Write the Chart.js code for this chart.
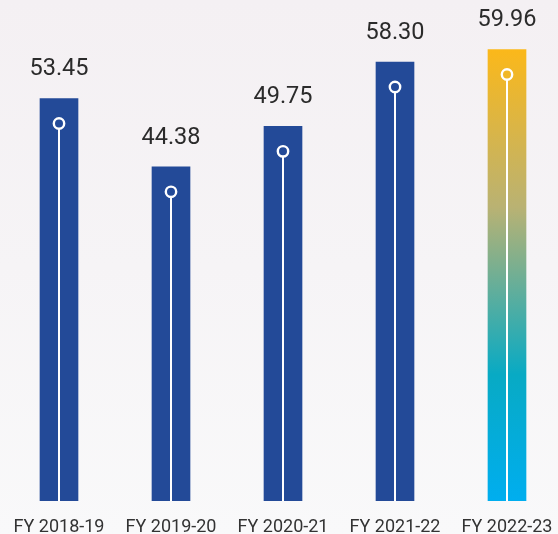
<!DOCTYPE html>
<html>
<head>
<meta charset="utf-8">
<script src="https://cdn.jsdelivr.net/npm/chart.js@4"></script>
<style>
  html, body { margin: 0; padding: 0; overflow: hidden; }
  body {
    width: 558px; height: 534px;
    background: linear-gradient(to bottom, #f4f0f3 0%, #f6f4f6 50%, #f9f9fa 100%);
    position: relative;
  }
  #wrap { position: absolute; left: 3px; top: 0; width: 560px; height: 534px; }
</style>
</head>
<body>
<div id="wrap"><canvas id="revenueChart" width="560" height="534"></canvas></div>
<script>
const years = ["FY 2018-19", "FY 2019-20", "FY 2020-21", "FY 2021-22", "FY 2022-23"];
const revenue = [53.45, 44.38, 49.75, 58.30, 59.96];

const barBlue = "#234a98";

// last year gets the yellow -> teal -> cyan fill
function latestFill(context) {
    const chart = context.chart;
    const area = chart.chartArea;
    if (context.dataIndex !== revenue.length - 1) return barBlue;
    if (!area || !chart.scales.y) return barBlue;
    const top = chart.scales.y.getPixelForValue(revenue[context.dataIndex]);
    if (!isFinite(top) || !isFinite(area.bottom)) return barBlue;
    const g = chart.ctx.createLinearGradient(0, top, 0, area.bottom);
    g.addColorStop(0, "#fbb81a");
    g.addColorStop(0.35, "#b9b273");
    g.addColorStop(0.72, "#08aac4");
    g.addColorStop(1, "#00aeef");
    return g;
}

// white stem + ring inside each bar, value text above it
const barDecor = {
    id: "barDecor",
    afterDatasetsDraw(chart) {
        const ctx = chart.ctx;
        const meta = chart.getDatasetMeta(0);
        ctx.save();
        meta.data.forEach((bar, i) => {
            const cy = bar.y + 25;
            ctx.strokeStyle = "#ffffff";
            ctx.lineWidth = 2;
            ctx.beginPath();
            ctx.moveTo(bar.x, cy + 5);
            ctx.lineTo(bar.x, bar.base);
            ctx.stroke();
            ctx.lineWidth = 2.4;
            ctx.beginPath();
            ctx.arc(bar.x, cy, 5.2, 0, Math.PI * 2);
            ctx.stroke();

            ctx.fillStyle = "#2b2b2b";
            ctx.font = "23.5px Roboto";
            ctx.textAlign = "center";
            ctx.textBaseline = "middle";
            ctx.fillText(revenue[i].toFixed(2), bar.x, bar.y - 29);
        });
        ctx.restore();
    }
};

const ctx1 = document.getElementById("revenueChart").getContext("2d");

new Chart(ctx1, {
    type: "bar",
    data: {
        labels: years,
        datasets: [{
            data: revenue,
            backgroundColor: latestFill,
            barThickness: 38,
            borderWidth: 0
        }]
    },
    options: {
        responsive: false,
        animation: false,
        layout: { padding: { top: 4, left: 0, right: 0, bottom: 0 } },
        plugins: {
            legend: { display: false },
            tooltip: { enabled: false }
        },
        scales: {
            x: {
                grid: { display: false, drawTicks: false },
                border: { display: false },
                ticks: {
                    color: "#333333",
                    padding: 16,
                    autoSkip: false,
                    minRotation: 0,
                    maxRotation: 0,
                    font: { family: "Roboto", size: 18 }
                },
                afterFit(scale) {
                    scale.height = 33;
                    scale.paddingLeft = 0;
                    scale.paddingRight = 0;
                }
            },
            y: {
                display: false,
                min: 0,
                max: 66
            }
        }
    },
    plugins: [barDecor]
});
</script>
</body>
</html>
